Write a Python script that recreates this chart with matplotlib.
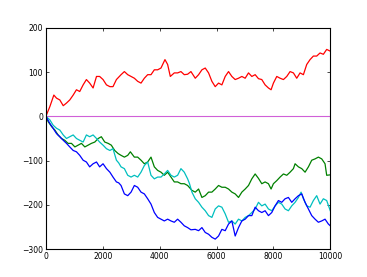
import matplotlib
matplotlib.use("Agg")
import matplotlib.pyplot as plt

# values (step index vs cumulative value)
red_x = [0, 140, 280, 375, 490, 610, 725, 840, 960, 1075, 1190, 1310, 1425, 1540, 1660,
         1780, 1890, 2010, 2130, 2250, 2360, 2480, 2643, 2760, 2878, 2995, 3111, 3228,
         3345, 3462, 3579, 3696, 3813, 3930, 4047, 4187, 4281, 4375, 4515, 4632, 4749,
         4866, 4983, 5100, 5252, 5369, 5486, 5603, 5720, 5837, 5954, 6071, 6188, 6305,
         6422, 6539, 6656, 6773, 6890, 7007, 7124, 7241, 7358, 7475, 7591, 7708, 7825,
         7918, 8000, 8118, 8235, 8352, 8469, 8586, 8703, 8820, 8937, 9054, 9171, 9288,
         9405, 9522, 9639, 9756, 9873, 10000]
red_y = [0, 22, 48, 41, 37, 24, 30, 37, 48, 60, 56, 71, 83, 75, 64,
         90, 90, 83, 71, 67, 67, 83, 94, 101, 94, 90, 86, 79,
         75, 86, 94, 94, 105, 105, 109, 128, 117, 90, 98, 98, 101,
         94, 95, 101, 86, 94, 105, 109, 98, 79, 67, 75, 71, 90,
         101, 90, 83, 86, 90, 86, 98, 90, 94, 85, 83, 71, 64,
         60, 75, 90, 86, 83, 90, 101, 98, 86, 98, 94, 117, 128,
         136, 136, 143, 140, 151, 147]

green_x = [0, 80, 200, 316, 430, 550, 665, 780, 900, 1020, 1135, 1250, 1370, 1485, 1600,
           1720, 1840, 1950, 2070, 2190, 2300, 2420, 2540, 2643, 2760, 2878, 2970, 3111,
           3228, 3345, 3462, 3579, 3696, 3813, 3930, 4047, 4164, 4281, 4398, 4515, 4632,
           4749, 4866, 4983, 5135, 5252, 5369, 5486, 5603, 5720, 5837, 5954, 6071, 6188,
           6305, 6422, 6539, 6656, 6773, 6890, 7007, 7124, 7241, 7358, 7475, 7591, 7708,
           7825, 7918, 8000, 8118, 8235, 8352, 8469, 8586, 8703, 8762, 8879, 8996, 9113,
           9230, 9347, 9464, 9581, 9698, 9815, 9873, 10000]
green_y = [0, -12, -23, -31, -42, -50, -54, -61, -61, -69, -65, -61, -69, -65, -61,
           -58, -50, -46, -58, -61, -65, -77, -84, -88, -92, -88, -80, -92,
           -92, -99, -107, -103, -92, -114, -122, -126, -133, -126, -137, -148, -148,
           -152, -152, -156, -167, -171, -164, -183, -179, -171, -171, -164, -156, -160,
           -160, -164, -171, -175, -183, -171, -164, -156, -141, -130, -140, -152, -148,
           -152, -164, -152, -145, -137, -130, -133, -126, -118, -107, -114, -118, -126,
           -114, -99, -96, -92, -96, -107, -133, -132]

cyan_x = [0, 140, 255, 375, 490, 610, 725, 840, 960, 1075, 1190, 1310, 1425, 1540, 1660,
          1780, 1890, 2010, 2130, 2250, 2360, 2480, 2560, 2643, 2760, 2878, 2995, 3111,
          3228, 3345, 3462, 3579, 3696, 3813, 3930, 4047, 4164, 4281, 4398, 4515, 4632,
          4749, 4866, 4983, 5050, 5135, 5252, 5369, 5486, 5603, 5720, 5837, 5954, 6071,
          6188, 6305, 6422, 6539, 6656, 6773, 6890, 7007, 7124, 7241, 7358, 7475, 7591,
          7708, 7825, 7942, 8059, 8176, 8293, 8410, 8527, 8644, 8762, 8879, 8973, 9054,
          9171, 9288, 9405, 9522, 9639, 9756, 9873, 10000]
cyan_y = [0, -8, -20, -27, -31, -42, -50, -46, -42, -50, -54, -58, -42, -46, -42,
          -50, -58, -65, -73, -77, -73, -99, -105, -114, -118, -133, -137, -133,
          -137, -126, -111, -103, -133, -141, -137, -137, -130, -122, -133, -137, -133,
          -118, -126, -141, -152, -171, -186, -194, -205, -213, -224, -228, -209, -202,
          -205, -220, -239, -236, -243, -232, -236, -228, -224, -217, -209, -194, -202,
          -198, -209, -213, -202, -194, -198, -209, -213, -202, -194, -183, -171, -186,
          -202, -205, -190, -179, -198, -186, -190, -213]

blue_x = [0, 140, 255, 375, 490, 610, 725, 840, 960, 1075, 1190, 1310, 1425, 1540, 1660,
          1780, 1890, 2010, 2130, 2250, 2360, 2480, 2560, 2643, 2760, 2878, 2995, 3111,
          3228, 3345, 3462, 3579, 3696, 3813, 3930, 4047, 4164, 4281, 4398, 4515, 4632,
          4749, 4866, 4983, 5100, 5252, 5369, 5486, 5603, 5720, 5837, 5954, 6071, 6188,
          6305, 6422, 6539, 6656, 6773, 6890, 7007, 7124, 7241, 7358, 7475, 7591, 7708,
          7825, 7942, 8059, 8176, 8293, 8410, 8527, 8644, 8762, 8879, 8996, 9113, 9230,
          9347, 9464, 9581, 9698, 9815, 9932, 10000]
blue_y = [0, -16, -27, -39, -46, -54, -61, -69, -77, -80, -88, -99, -103, -114, -107,
          -103, -114, -107, -118, -126, -137, -148, -150, -156, -175, -179, -171, -156,
          -160, -171, -175, -186, -198, -217, -228, -232, -236, -232, -236, -239, -232,
          -239, -247, -251, -256, -255, -258, -251, -262, -266, -273, -277, -270, -255,
          -258, -243, -236, -270, -251, -236, -232, -224, -224, -205, -213, -217, -213,
          -224, -217, -202, -190, -194, -186, -183, -194, -186, -179, -175, -194, -209,
          -224, -232, -239, -236, -232, -243, -247]

fig = plt.figure(figsize=(3.67, 2.77), dpi=100)
ax = fig.add_axes([0.125, 0.1, 0.775, 0.8])

ax.plot(red_x, red_y, color=(1, 0, 0), lw=0.9)
ax.axhline(0, color="#d060d8", lw=0.8)
ax.plot(green_x, green_y, color=(0, 0.5, 0), lw=0.9)
ax.plot(cyan_x, cyan_y, color=(0, 0.75, 0.75), lw=0.9)
ax.plot(blue_x, blue_y, color=(0, 0, 1), lw=0.9)

ax.set_xlim(0, 10000)
ax.set_ylim(-300, 200)
ax.set_xticks([0, 2000, 4000, 6000, 8000, 10000])
ax.set_yticks([-300, -200, -100, 0, 100, 200])
ax.tick_params(direction="in", length=2.5, width=0.5, labelsize=5.5, pad=2,
               top=True, right=True)
for s in ax.spines.values():
    s.set_linewidth(0.8)

fig.savefig("out.png", dpi=100)
